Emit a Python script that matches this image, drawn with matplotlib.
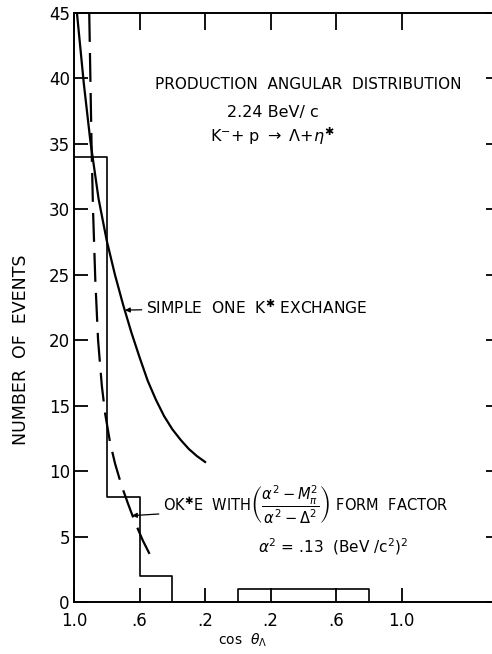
import numpy as np
import matplotlib
matplotlib.use("Agg")
import matplotlib.pyplot as plt

# histogram of cos(theta_Lambda), bins of 0.2 going from 1.0 down to -1.0
bin_edges = [1.0, 0.8, 0.6, 0.4, 0.2, 0.0, -0.2, -0.4, -0.6, -0.8, -1.0]
counts = [34, 8, 2, 0, 0, 1, 1, 1, 1, 0]

# simple one K* exchange (solid)
simple_cos = [0.982, 0.94, 0.90, 0.85, 0.80, 0.75, 0.70, 0.65, 0.60, 0.55, 0.50, 0.45, 0.40,
              0.35, 0.30, 0.25, 0.20]
simple_n = [45, 39.6, 35.2, 30.8, 27.6, 25.0, 22.7, 20.6, 18.7, 16.9, 15.45, 14.2, 13.2,
            12.4, 11.7, 11.15, 10.7]

# OK*E with form factor (dashed)
ff_cos = [0.907, 0.90, 0.893, 0.884, 0.87, 0.853, 0.83, 0.81, 0.78, 0.75, 0.71, 0.67, 0.628, 0.58, 0.524]
ff_n = [45, 40, 35, 30, 24.6, 20, 16.5, 14.4, 12.2, 10.6, 8.9, 7.5, 6.1, 4.7, 3.3]

xtick_pos = [1.0, 0.6, 0.2, -0.2, -0.6, -1.0]
xtick_labels = ["1.0", ".6", ".2", ".2", ".6", "1.0"]
ytick_pos = list(range(0, 50, 5))

plt.rcParams['font.family'] = ['DejaVu Sans']
plt.rcParams['mathtext.fontset'] = 'dejavusans'

fig = plt.figure(figsize=(4.92, 6.54), dpi=100)
ax = fig.add_axes([74/492, 52/654, 426/492, 589/654])

# histogram as a step outline
xs = [bin_edges[0]]
ys = [0]
for i, c in enumerate(counts):
    xs += [bin_edges[i], bin_edges[i+1]]
    ys += [c, c]
xs.append(bin_edges[-1])
ys.append(0)
ax.plot(xs, ys, color='black', lw=1.2)

ax.plot(simple_cos, simple_n, color='black', lw=1.6)
ax.plot(ff_cos, ff_n, color='black', lw=1.6, linestyle=(0, (13, 5)))

ax.set_xlim(1.0, -1.6)
ax.set_ylim(0, 45)

for s in ['left', 'bottom', 'top']:
    ax.spines[s].set_linewidth(1.4)
ax.spines['right'].set_visible(False)

ax.set_xticks(xtick_pos)
ax.set_xticklabels(xtick_labels)
ax.set_yticks(ytick_pos)
ax.set_yticklabels([str(v) for v in ytick_pos])
ax.tick_params(axis='x', direction='in', top=True, length=10, width=1.3, pad=7, labelsize=12)
ax.tick_params(axis='y', direction='in', right=True, length=10, width=1.3, pad=3, labelsize=12)
for t in ax.xaxis.get_major_ticks():
    t.tick2line.set_markersize(12)

ax.text(0.506, 39.5, "PRODUCTION  ANGULAR  DISTRIBUTION", fontsize=11, ha='left', va='center')
ax.text(-0.213, 37.4, "2.24 BeV/ c", fontsize=11.5, ha='center', va='center')
ax.text(-0.213, 35.6, r"K$^{-}$+ p $\rightarrow$ $\Lambda$+$\eta^{✱}$", fontsize=11.5, ha='center', va='center')

arrow = dict(arrowstyle='-|>', lw=0.9, color='black', shrinkA=1, shrinkB=0, mutation_scale=7)
ax.annotate(r"SIMPLE  ONE  K$^{✱}$ EXCHANGE", xy=(0.689, 22.3), xytext=(0.561, 22.5),
            fontsize=11.2, ha='left', va='center', arrowprops=arrow)
ax.annotate(r"OK$^{✱}$E  WITH$\left(\dfrac{\alpha^2-M_\pi^2}{\alpha^2-\Delta^2}\right)$ FORM  FACTOR",
            xy=(0.646, 6.6), xytext=(0.457, 7.4),
            fontsize=10.5, ha='left', va='center', arrowprops=arrow)
ax.text(-0.579, 4.2, r"$\alpha^2$ = .13  (BeV /c$^2$)$^2$", fontsize=11, ha='center', va='center')

fig.text(243/492, 1 - 640/654, r"cos  $\theta_\Lambda$", fontsize=10, ha='center', va='center')
fig.text(21/492, 1 - 350/654, "NUMBER  OF  EVENTS", fontsize=12.5, rotation=90, ha='center', va='center')

fig.savefig("out.png", dpi=100)
